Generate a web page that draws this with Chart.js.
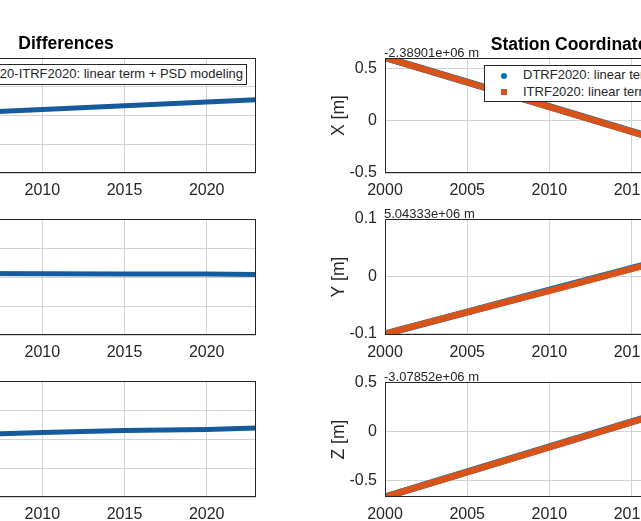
<!DOCTYPE html>
<html>
<head>
<meta charset="utf-8">
<script src="https://cdn.jsdelivr.net/npm/chart.js@4.4.1/dist/chart.umd.min.js"></script>
<style>
  body { margin: 0; background: #fff; }
  #fig { position: relative; width: 641px; height: 521px; overflow: hidden; background: #fff;
         font-family: 'Liberation Sans', Arial, Helvetica, sans-serif; color: #262626; }
  canvas { position: absolute; }
  .title { position: absolute; font-weight: bold; font-size: 17.5px; color: #000; white-space: nowrap;
           transform: translateX(-50%); }
  .expo { position: absolute; font-size: 13px; white-space: nowrap; line-height: 13px; }
  .legend { position: absolute; background: #fff; border: 1px solid #262626; font-size: 13px;
            white-space: nowrap; box-sizing: border-box; }
  .legend .row { position: absolute; height: 16px; line-height: 16px; }
  .mk { position: absolute; }
</style>
</head>
<body>
<div id="fig"></div>
<script>
// epochs (years) and values
const years = [2000, 2005, 2010, 2015, 2020, 2023];
const xTicks = [2000, 2005, 2010, 2015, 2020];

// station coordinates, offset from the value in the exponent label [m]
const dtrfX = [0.605, 0.370, 0.134, -0.102, -0.337, -0.479];
const itrfX = [0.604, 0.368, 0.132, -0.104, -0.340, -0.482];
const dtrfY = [-0.100, -0.062, -0.024, 0.014, 0.052, 0.074];
const itrfY = [-0.100, -0.062, -0.025, 0.013, 0.051, 0.073];
const dtrfZ = [-0.667, -0.410, -0.155, 0.099, 0.354, 0.507];
const itrfZ = [-0.667, -0.412, -0.157, 0.098, 0.352, 0.505];

// differences DTRF2020 - ITRF2020
const diffX = [-0.0002, 0.0008, 0.0021, 0.0034, 0.0047, 0.0055];
const diffY = [0.0012, 0.0012, 0.0011, 0.0010, 0.0010, 0.0009];
const diffZ = [0.0008, 0.0014, 0.0022, 0.0029, 0.0033, 0.0038];

const coordTicks = {
  X: [-0.5, 0, 0.5],
  Y: [-0.1, 0, 0.1],
  Z: [-0.5, 0, 0.5]
};
const diffTicks = [-0.02, -0.01, 0, 0.01, 0.02];

const expoLabels = ['-2.38901e+06 m', '5.04333e+06 m', '-3.07852e+06 m'];
const coordNames = ['DTRF2020: linear term + PSD modeling', 'ITRF2020: linear term + PSD modeling'];
const diffName = 'DTRF2020-ITRF2020: linear term + PSD modeling';

const BLUE = '#0072BD', ORANGE = '#D95319', DARKBLUE = '#145A9C';
const FONT = "'Liberation Sans', Arial, Helvetica, sans-serif";
const AX = '#262626', GRID = '#d2d2d2';
const Y_W = 60, X_H = 30, PAD_T = 26, PAD_R = 4;

const fig = document.getElementById('fig');

// draws the box round the axes, like MATLAB "box on"
const boxPlugin = {
  id: 'box',
  afterDraw(chart) {
    const a = chart.chartArea, c = chart.ctx;
    c.save();
    c.strokeStyle = AX;
    c.lineWidth = 1;
    c.strokeRect(Math.round(a.left) + 0.5, Math.round(a.top) + 0.5,
                 Math.round(a.right - a.left) - 1, Math.round(a.bottom - a.top) - 1);
    c.restore();
  }
};

function addDiv(cls, css, html) {
  const d = document.createElement('div');
  d.className = cls;
  Object.assign(d.style, css);
  if (html !== undefined) d.innerHTML = html;
  fig.appendChild(d);
  return d;
}

function makePlot(area, datasets, yMin, yMax, yTicks, yTitle) {
  const cv = document.createElement('canvas');
  const w = (area.r - area.l) + Y_W + PAD_R;
  const h = (area.b - area.t) + PAD_T + X_H;
  cv.width = w; cv.height = h;
  cv.style.left = (area.l - Y_W) + 'px';
  cv.style.top = (area.t - PAD_T) + 'px';
  fig.appendChild(cv);

  return new Chart(cv.getContext('2d'), {
    type: 'line',
    data: { datasets: datasets },
    options: {
      responsive: false,
      animation: false,
      devicePixelRatio: 1,
      layout: { padding: { top: PAD_T, right: PAD_R, left: 0, bottom: 0 } },
      elements: { point: { radius: 0 } },
      plugins: { legend: { display: false }, tooltip: { enabled: false } },
      scales: {
        x: {
          type: 'linear', min: 2000, max: 2023,
          afterBuildTicks: s => { s.ticks = xTicks.map(v => ({ value: v })); },
          afterFit: s => { s.height = X_H; },
          grid: { color: GRID, drawTicks: false },
          border: { display: false },
          ticks: { color: AX, padding: 8, font: { family: FONT, size: 16 },
                   maxRotation: 0, callback: v => String(v) }
        },
        y: {
          type: 'linear', min: yMin, max: yMax,
          afterBuildTicks: s => { s.ticks = yTicks.map(v => ({ value: v })); },
          afterFit: s => { s.width = Y_W; },
          grid: { color: GRID, drawTicks: false },
          border: { display: false },
          ticks: { color: AX, padding: 8, font: { family: FONT, size: 16 },
                   callback: v => String(v) },
          title: { display: !!yTitle, text: yTitle, color: AX,
                   font: { family: FONT, size: 17.5 }, padding: { top: 4, bottom: 0 } }
        }
      }
    },
    plugins: [boxPlugin]
  });
}

function pts(vals) {
  return vals.map((v, i) => ({ x: years[i], y: v }));
}

// ---- left column: differences ----
const leftAreas = [
  { l: -122, r: 256, t: 58, b: 173 },
  { l: -122, r: 256, t: 219, b: 335 },
  { l: -122, r: 256, t: 381, b: 497 }
];
[diffX, diffY, diffZ].forEach((d, i) => {
  makePlot(leftAreas[i], [{
    label: diffName, data: pts(d), borderColor: DARKBLUE, borderWidth: 5
  }], -0.02, 0.02, diffTicks, '');
});

// ---- right column: station coordinates ----
const rightAreas = [
  { l: 385, r: 763, t: 58, b: 173 },
  { l: 385, r: 763, t: 219, b: 335 },
  { l: 385, r: 763, t: 382, b: 497 }
];
const coordSets = [
  { name: 'X', d: dtrfX, it: itrfX, min: -0.5, max: 0.6 },
  { name: 'Y', d: dtrfY, it: itrfY, min: -0.102, max: 0.1 },
  { name: 'Z', d: dtrfZ, it: itrfZ, min: -0.667, max: 0.507 }
];
coordSets.forEach((s, i) => {
  makePlot(rightAreas[i], [
    { label: coordNames[0], data: pts(s.d), borderColor: BLUE, borderWidth: 7, order: 2 },
    { label: coordNames[1], data: pts(s.it), borderColor: ORANGE, borderWidth: 6.5, order: 1 }
  ], s.min, s.max, coordTicks[s.name], s.name + ' [m]');
  addDiv('expo', { left: (rightAreas[i].l - 1) + 'px', top: (rightAreas[i].t - 12) + 'px' }, expoLabels[i]);
});

// ---- titles ----
addDiv('title', { left: '66px', top: '33px' }, 'Differences');
addDiv('title', { left: '574px', top: '34px' }, 'Station Coordinates');

// ---- legends ----
const lg = addDiv('legend', { left: '-60px', top: '64px', width: '307px', height: '21px' });
const lgTxt = document.createElement('div');
lgTxt.className = 'row';
Object.assign(lgTxt.style, { right: '3px', top: '1px' });
lgTxt.textContent = diffName;
lg.appendChild(lgTxt);

const rl = addDiv('legend', { left: '484px', top: '65px', width: '271px', height: '37px' });
coordNames.forEach((name, i) => {
  const mk = document.createElement('div');
  mk.className = 'mk';
  if (i === 0) {
    Object.assign(mk.style, { left: '16px', top: (7 + i * 17) + 'px', width: '6px', height: '6px',
                              borderRadius: '50%', background: BLUE });
  } else {
    Object.assign(mk.style, { left: '16px', top: (6 + i * 17) + 'px', width: '6px', height: '6px',
                              background: ORANGE });
  }
  rl.appendChild(mk);
  const t = document.createElement('div');
  t.className = 'row';
  Object.assign(t.style, { left: '38px', top: (1 + i * 17) + 'px' });
  t.textContent = name;
  rl.appendChild(t);
});
</script>
</body>
</html>
